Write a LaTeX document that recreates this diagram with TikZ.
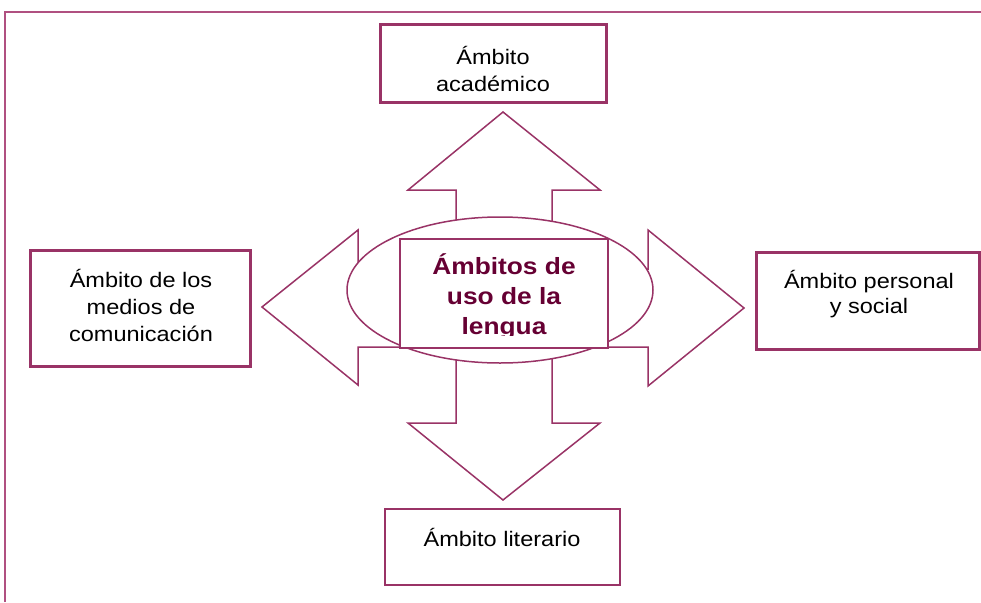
\documentclass[tikz,border=0pt]{standalone}
\usepackage{fontspec}
\usetikzlibrary{shapes.geometric}
\setmainfont{Liberation Sans}[FakeStretch=1.12]
\definecolor{mar}{RGB}{153,51,102}
\definecolor{dmar}{RGB}{102,0,51}
\definecolor{lmar}{RGB}{176,80,128}
\tikzset{
  frameline/.style={draw=lmar, line width=1.2pt},
  box/.style={draw=mar, line width=3pt, fill=white, inner sep=0pt},
  thinbox/.style={draw=mar, line width=2pt, fill=white, inner sep=0pt},
  blockarrow/.style={draw=mar, line width=1.5pt, fill=white, line join=miter},
  lbl/.style={inner sep=0pt, align=center, text=black, font=\fontsize{21}{27}\selectfont},
  clbl/.style={inner sep=0pt, align=center, text=dmar, font=\bfseries\fontsize{23.5}{30}\selectfont},
}
\begin{document}
\begin{tikzpicture}[x=1pt,y=-1pt]
\useasboundingbox (0,0) rectangle (981,602);
% outer frame
\draw[frameline] (5,602) -- (5,12) -- (981,12);

% block arrows
\draw[blockarrow] (456,250) -- (456,190) -- (408,190) -- (503,112) -- (600,190) -- (552,190) -- (552,250) -- cycle;
\draw[blockarrow] (456,330) -- (456,423) -- (408,423) -- (503,500) -- (600,423) -- (552,423) -- (552,330) -- cycle;
\draw[blockarrow] (450,269) -- (358,269) -- (358,230) -- (262,307) -- (358,385) -- (358,347) -- (450,347) -- cycle;
\draw[blockarrow] (550,269) -- (648,269) -- (648,230) -- (744,308) -- (648,386) -- (648,347) -- (550,347) -- cycle;

% centre
\node[draw=mar, line width=1.5pt, fill=white, ellipse, minimum width=306pt, minimum height=146pt, inner sep=0pt] (ell) at (500,290) {};
\node[draw=mar, line width=1.5pt, fill=white, minimum width=208pt, minimum height=109pt, inner sep=0pt] (crect) at (504,293.5) {};
\begin{scope}
\clip (401,240) rectangle (607,335.5);
\node[clbl] (ctext) at (504,297) {Ámbitos de\\uso de la\\lengua};
\end{scope}

% boxes
\node[box, minimum width=226pt, minimum height=77pt] (acad) at (493,63.5) {};
\node[lbl] (acadt) at (493,68.5) {Ámbito\\académico};

\node[box, minimum width=220pt, minimum height=116pt] (medios) at (140,308) {};
\node[lbl] (mediost) at (141,305) {Ámbito de los\\medios de\\comunicación};

\node[box, minimum width=223pt, minimum height=97pt] (pers) at (868,300.5) {};
\node[lbl, font=\fontsize{21}{25}\selectfont] (perst) at (869,294.5) {Ámbito personal\\y social};

\node[thinbox, minimum width=235pt, minimum height=76pt] (lit) at (502.5,547) {};
\node[lbl] (litt) at (502,537) {Ámbito literario};
\end{tikzpicture}
\end{document}
